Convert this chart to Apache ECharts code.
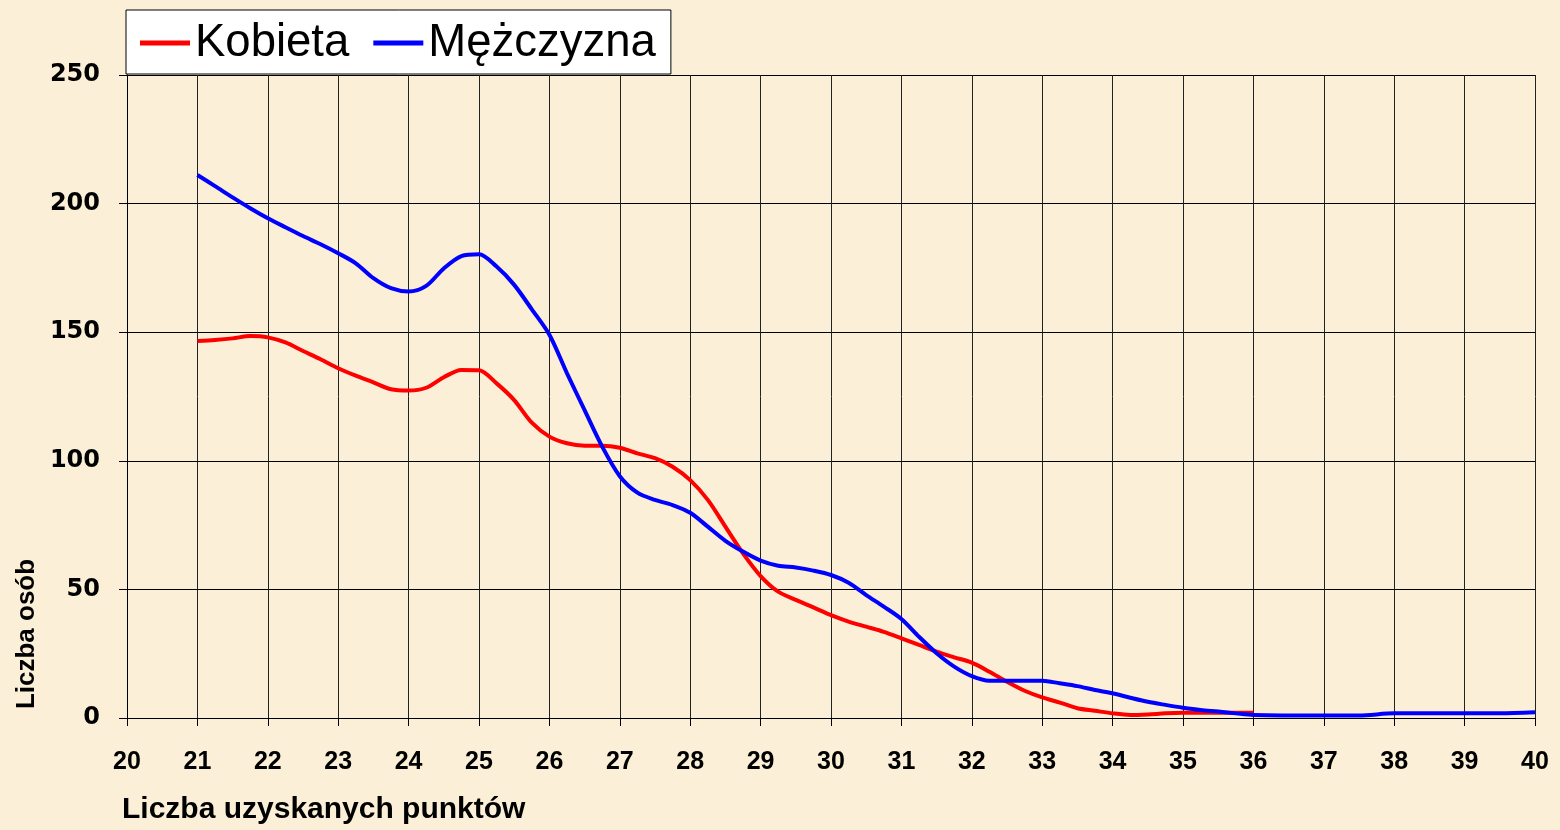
<!DOCTYPE html>
<html>
<head>
<meta charset="utf-8">
<script src="https://cdn.jsdelivr.net/npm/echarts@6/dist/echarts.min.js"></script>
<style>
html, body { margin: 0; padding: 0; background: #fbf0d7; }
#chart { width: 1560px; height: 830px; }
</style>
</head>
<body>
<div id="chart"></div>
<script>
// punkty (oś X) i liczba osób (oś Y)
var kobietaX = [21, 21.25, 21.5, 21.75, 22, 22.25, 22.5, 22.75, 23, 23.25, 23.5, 23.75, 24, 24.25, 24.5, 24.75, 25, 25.25, 25.5, 25.75, 26, 26.25, 26.5, 26.75, 27, 27.25, 27.5, 27.75, 28, 28.25, 28.5, 28.75, 29, 29.25, 29.5, 29.75, 30, 30.25, 30.5, 30.75, 31, 31.25, 31.5, 31.75, 32, 32.25, 32.5, 32.75, 33, 33.25, 33.5, 33.75, 34, 34.25, 34.5, 34.75, 35, 35.5, 36];
var kobietaY = [146.6, 147, 147.6, 148.5, 148, 146, 142.7, 139.5, 136, 133.1, 130.5, 127.8, 127.3, 128.4, 132.5, 135.3, 135.2, 130.1, 123.6, 114.8, 109.4, 106.8, 105.9, 105.9, 105.1, 102.9, 101, 97.7, 92.5, 84.8, 74.4, 64, 55.2, 49.1, 45.9, 43, 40, 37.5, 35.5, 33.5, 31, 28.4, 25.8, 23.6, 21.5, 18, 14.1, 10.6, 8, 6, 3.8, 2.8, 1.8, 1.2, 1.4, 1.8, 2, 2, 2];

var mezczyznaX = [21, 21.25, 21.5, 21.75, 22, 22.25, 22.5, 22.75, 23, 23.25, 23.5, 23.75, 24, 24.25, 24.5, 24.75, 25, 25.25, 25.5, 25.75, 26, 26.25, 26.5, 26.75, 27, 27.25, 27.5, 27.75, 28, 28.25, 28.5, 28.75, 29, 29.25, 29.5, 29.75, 30, 30.25, 30.5, 30.75, 31, 31.25, 31.5, 31.75, 32, 32.25, 32.5, 33, 33.25, 33.5, 33.75, 34, 34.25, 34.5, 34.75, 35, 35.25, 35.5, 35.75, 36, 37, 37.5, 38, 39, 39.5, 40];
var mezczyznaY = [211.1, 206.8, 202.4, 198.2, 194.3, 190.8, 187.4, 184.2, 180.7, 176.8, 171, 167.1, 165.8, 168, 174.8, 179.6, 180.3, 175.5, 168.4, 158.9, 149, 134, 119.7, 105.5, 94, 87.6, 84.8, 82.8, 79.8, 74.4, 68.9, 64.7, 61.2, 59.2, 58.5, 57.3, 55.6, 52.6, 47.8, 43.3, 38.5, 31.6, 25.2, 20, 16.3, 14.5, 14.5, 14.5, 13.5, 12.4, 10.9, 9.6, 7.9, 6.3, 5.1, 4, 3.1, 2.5, 1.8, 1.2, 1, 1, 1.8, 1.8, 1.8, 2.2];

var seriesNames = ['Kobieta', 'Mężczyzna'];
var xAxisName = 'Liczba uzyskanych punktów';
var yAxisName = 'Liczba osób';

function pairs(xs, ys) {
    return xs.map(function (x, i) { return [x, ys[i]]; });
}

var myChart = echarts.init(document.getElementById('chart'));
var option = {
    backgroundColor: '#fbf0d7',
    animation: false,
    grid: {
        left: 127,
        right: 25,
        top: 75,
        bottom: 112,
        containLabel: false
    },
    legend: {
        left: 126,
        top: 10,
        icon: 'rect',
        itemWidth: 50,
        itemHeight: 5,
        itemGap: 24,
        itemTextGap: 10,
        padding: [10, 15, 8, 14],
        backgroundColor: '#ffffff',
        borderColor: '#000000',
        borderWidth: 1,
        borderRadius: 0,
        textStyle: {
            fontFamily: 'Liberation Sans',
            fontSize: 45.5,
            color: '#000'
        },
        data: seriesNames
    },
    xAxis: {
        type: 'value',
        min: 20,
        max: 40,
        interval: 1,
        axisLine: { lineStyle: { color: '#000', width: 1 } },
        axisTick: { show: true, length: 8, lineStyle: { color: '#000' } },
        axisLabel: {
            margin: 32,
            color: '#000',
            fontWeight: 'bold',
            fontSize: 25,
            fontFamily: '"Liberation Sans Narrow", "Arial Narrow", "Liberation Sans", sans-serif'
        },
        splitLine: { show: true, lineStyle: { color: '#222', width: 1 } }
    },
    yAxis: {
        type: 'value',
        min: 0,
        max: 250,
        interval: 50,
        axisLine: { show: true, lineStyle: { color: '#000', width: 1 } },
        axisTick: { show: true, length: 8, lineStyle: { color: '#000' } },
        axisLabel: {
            margin: 27,
            color: '#000',
            fontWeight: 'bold',
            fontSize: 24,
            padding: [4, 0, 0, 0],
            fontFamily: '"DejaVu Sans", sans-serif'
        },
        splitLine: { show: true, lineStyle: { color: '#000', width: 1 } }
    },
    graphic: [{
        type: 'text',
        left: 122,
        top: 795,
        style: {
            text: xAxisName,
            fill: '#000',
            font: 'bold 30px "Liberation Sans", sans-serif'
        }
    }, {
        type: 'text',
        x: 27,
        y: 634,
        rotation: Math.PI / 2,
        style: {
            text: yAxisName,
            fill: '#000',
            align: 'center',
            verticalAlign: 'middle',
            font: 'bold 26px "Liberation Sans", sans-serif'
        }
    }],
    series: [{
        name: seriesNames[0],
        type: 'line',
        data: pairs(kobietaX, kobietaY),
        smooth: 0.3,
        showSymbol: false,
        color: '#ff0000',
        lineStyle: { color: '#ff0000', width: 4 }
    }, {
        name: seriesNames[1],
        type: 'line',
        data: pairs(mezczyznaX, mezczyznaY),
        smooth: 0.3,
        showSymbol: false,
        color: '#0000ff',
        lineStyle: { color: '#0000ff', width: 4 }
    }]
};
option && myChart.setOption(option);
</script>
</body>
</html>
